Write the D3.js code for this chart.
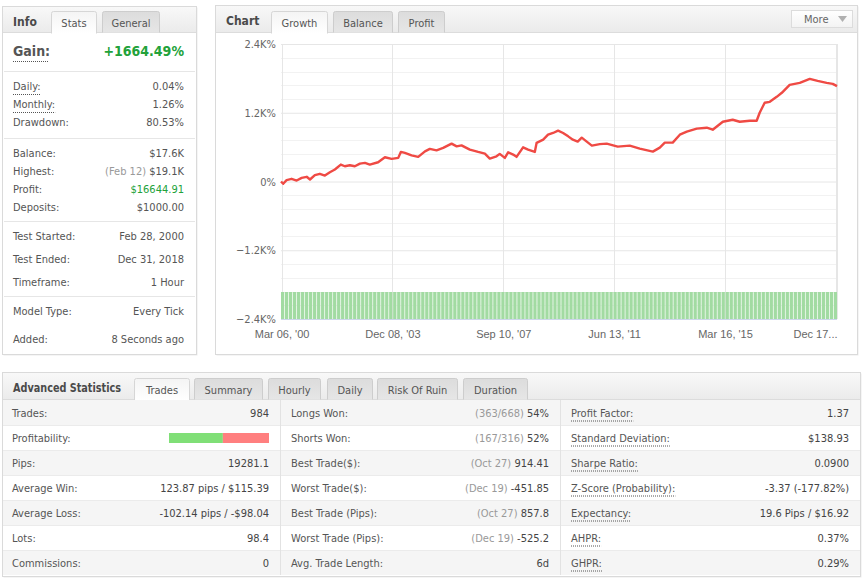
<!DOCTYPE html>
<html><head><meta charset="utf-8">
<script src="https://cdn.jsdelivr.net/npm/d3@7"></script>
<style>
html,body{margin:0;padding:0;background:#fff;}
svg{display:block;}
</style></head><body>
<svg id="c" width="866" height="586"></svg>
<script>
// ---------------- DATA ----------------
const growthDates = ["2000-02-28","2000-03-26","2000-05-07","2000-07-08","2000-09-09","2000-11-10","2001-01-11","2001-02-21","2001-04-22","2001-06-23","2001-08-24","2001-10-25","2001-12-26","2002-03-09","2002-04-28","2002-06-29","2002-08-30","2002-11-01","2003-01-02","2003-03-03","2003-06-14","2003-09-06","2003-11-28","2004-02-18","2004-03-21","2004-05-10","2004-08-01","2004-10-22","2005-01-14","2005-03-15","2005-06-06","2005-08-27","2005-12-09","2006-02-10","2006-04-11","2006-07-23","2006-11-03","2007-01-25","2007-03-27","2007-06-18","2007-07-28","2007-09-29","2007-11-09","2008-01-10","2008-02-21","2008-05-12","2008-07-13","2008-10-04","2008-10-26","2009-01-16","2009-03-17","2009-05-18","2009-07-19","2009-09-19","2009-11-21","2010-01-18","2010-03-19","2010-05-08","2010-07-09","2010-09-10","2010-12-17","2011-03-13","2011-07-27","2011-12-23","2012-04-25","2012-10-04","2012-12-29","2013-03-01","2013-06-07","2013-09-03","2013-11-28","2014-03-31","2014-08-02","2014-10-15","2015-02-17","2015-06-19","2015-09-14","2016-01-16","2016-04-11","2016-05-18","2016-07-19","2016-09-20","2016-12-15","2017-02-16","2017-05-24","2017-09-26","2018-01-28","2018-05-05","2018-08-25","2018-11-08","2018-12-31"];
const growthValues = [0,-40,23,47,17,64,82,35,110,134,104,162,209,296,266,283,266,313,325,296,336,423,395,412,516,499,457,430,527,569,544,586,661,614,631,556,516,487,400,440,482,412,510,470,430,596,556,516,673,730,817,847,887,847,788,730,696,765,696,626,652,661,609,626,574,522,591,678,678,817,870,922,939,904,1043,1078,1043,1061,1061,1200,1374,1391,1478,1548,1687,1722,1791,1756,1722,1704,1664];

const barValues = [
100,100,100,100,100,100,100,100,100,100,100,100,100,100,100,100,100,100,100,100,
100,100,100,100,100,100,100,100,100,100,100,100,100,100,100,100,100,100,100,100,
100,100,100,100,100,100,100,100,100,100,100,100,100,100,100,100,100,100,100,100,
100,100,100,100,100,100,100,100,100,100,100,100,100,100,100,100,100,100,100,100,
100,100,100,100,100,100,100,100,100,100,100,100,100,100,100,100,100,100,100,100,
100,100,100,100,100,100,100,100,100,100,100,100,100,100,100,100,100,100,100,100,
100,100,100,100,100,100,100,100,100,100,100,100,100,100,100,100,100,100,100];

const yTickValues = [-2400,-1200,0,1200,2400];
const yTickLabels = ["\u22122.4K%","\u22121.2K%","0%","1.2K%","2.4K%"];
const xDomain = ["2000-02-28","2018-12-31"];
const xTickDates = ["2000-03-06","2003-12-08","2007-09-10","2011-06-13","2015-03-16","2018-12-17"];
const xTickLabels = ["Mar 06, '00","Dec 08, '03","Sep 10, '07","Jun 13, '11","Mar 16, '15","Dec 17..."];

const chartTabs = ["Growth","Balance","Profit"];
const infoTabs = ["Stats","General"];
const statTabs = ["Trades","Summary","Hourly","Daily","Risk Of Ruin","Duration"];

const gainLabel = "Gain:";
const gainValue = "+1664.49%";
const infoLabels = ["Daily:","Monthly:","Drawdown:","Balance:","Highest:","Profit:","Deposits:","Test Started:","Test Ended:","Timeframe:","Model Type:","Added:"];
const infoNotes  = ["","","","","(Feb 12) ","","","","","","",""];
const infoValues = ["0.04%","1.26%","80.53%","$17.6K","$19.1K","$16644.91","$1000.00","Feb 28, 2000","Dec 31, 2018","1 Hour","Every Tick","8 Seconds ago"];

const col1Labels = ["Trades:","Profitability:","Pips:","Average Win:","Average Loss:","Lots:","Commissions:"];
const col1Values = ["984","","19281.1","123.87 pips / $115.39","-102.14 pips / -$98.04","98.4","0"];
const col2Labels = ["Longs Won:","Shorts Won:","Best Trade($):","Worst Trade($):","Best Trade (Pips):","Worst Trade (Pips):","Avg. Trade Length:"];
const col2Notes  = ["(363/668) ","(167/316) ","(Oct 27) ","(Dec 19) ","(Oct 27) ","(Dec 19) ",""];
const col2Values = ["54%","52%","914.41","-451.85","857.8","-525.2","6d"];
const col3Labels = ["Profit Factor:","Standard Deviation:","Sharpe Ratio:","Z-Score (Probability):","Expectancy:","AHPR:","GHPR:"];
const col3Values = ["1.37","$138.93","0.0900","-3.37 (-177.82%)","19.6 Pips / $16.92","0.37%","0.29%"];
const profitabilityParts = [530, 454]; // won, lost

// ---------------- DRAW ----------------
const UI = '"DejaVu Sans Condensed","DejaVu Sans",Verdana,sans-serif';
const AR = '"Liberation Sans",Arial,sans-serif';
const svg = d3.select("#c");
svg.append("rect").attr("width",866).attr("height",586).attr("fill","#fff");

const defs = svg.append("defs");
function grad(id, c1, c2){
  const g = defs.append("linearGradient").attr("id",id).attr("x1",0).attr("y1",0).attr("x2",0).attr("y2",1);
  g.append("stop").attr("offset","0%").attr("stop-color",c1);
  g.append("stop").attr("offset","100%").attr("stop-color",c2);
}
grad("hdr","#f8f8f8","#ebebeb");
grad("tabI","#dcdcdc","#e6e6e6");
grad("tabA","#f4f4f4","#ffffff");
grad("btn","#ffffff","#f3f3f3");

function panel(x,y,w,h,hh,title,titleW){
  svg.append("rect").attr("x",x+1.5).attr("y",y+1.5).attr("width",w).attr("height",h).attr("fill","#ececec");
  svg.append("rect").attr("x",x+0.5).attr("y",y+0.5).attr("width",w).attr("height",h).attr("fill","#fff").attr("stroke","#dadada");
  svg.append("rect").attr("x",x+1).attr("y",y+1).attr("width",w-1).attr("height",hh-1).attr("fill","url(#hdr)");
  svg.append("line").attr("x1",x+1).attr("x2",x+w).attr("y1",y+hh+0.5).attr("y2",y+hh+0.5).attr("stroke","#dcdcdc");
  const t = svg.append("text").attr("x",x+11).attr("y",y+19.5).text(title)
    .attr("font-family",UI).attr("font-size",12).attr("font-weight","bold").attr("fill","#4a4a4a");
  if(titleW) t.attr("textLength",titleW).attr("lengthAdjust","spacingAndGlyphs");
}
function tabs(labels, xs, ws, y, bottom, activeIdx){
  labels.forEach((lab,i)=>{
    const x0 = xs[i]+0.5, x1 = xs[i]+ws[i]+0.5, y0 = y+0.5, r = 2;
    const act = i===activeIdx;
    const yb = act ? bottom+1.5 : bottom+0.5;
    svg.append("path")
      .attr("d",`M${x0},${yb} L${x0},${y0+r} Q${x0},${y0} ${x0+r},${y0} L${x1-r},${y0} Q${x1},${y0} ${x1},${y0+r} L${x1},${yb}`)
      .attr("fill", act ? "url(#tabA)" : "url(#tabI)").attr("stroke", act ? "#d6d6d6" : "#cdcdcd");
    svg.append("text").attr("x",xs[i]+ws[i]/2+0.5).attr("y",y+15.5).attr("text-anchor","middle").text(lab)
      .attr("font-family",UI).attr("font-size",11).attr("fill","#555");
  });
}

// ---- Info panel ----
panel(2,6,194,348,26,"Info");
tabs(infoTabs,[51,102],[45,57],11,32,0);
svg.append("text").attr("x",13).attr("y",56).text(gainLabel)
  .attr("font-family",UI).attr("font-size",14).attr("font-weight","bold").attr("fill","#555");
svg.append("line").attr("x1",13).attr("x2",49).attr("y1",61.5).attr("y2",61.5).attr("stroke","#555").attr("stroke-dasharray","1,1");
svg.append("text").attr("x",184).attr("y",56).attr("text-anchor","end").text(gainValue)
  .attr("font-family",UI).attr("font-size",14).attr("font-weight","bold").attr("fill","#22a23a");
[71,138,221.5,296.5].forEach(y=>{
  svg.append("line").attr("x1",4).attr("x2",195).attr("y1",Math.floor(y)+0.5).attr("y2",Math.floor(y)+0.5).attr("stroke","#e6e6e6");
});
const infoY = [90,108,126,157,175,193,211,240,263,286,315,343];
infoLabels.forEach((lab,i)=>{
  const t = svg.append("text").attr("x",13).attr("y",infoY[i]).text(lab)
    .attr("font-family",UI).attr("font-size",11).attr("fill","#555");
  if(i<2){
    const w = t.node().getComputedTextLength();
    svg.append("line").attr("x1",13).attr("x2",13+w).attr("y1",infoY[i]+4.5).attr("y2",infoY[i]+4.5)
      .attr("stroke","#555").attr("stroke-dasharray","1,1");
  }
  const v = svg.append("text").attr("x",184).attr("y",infoY[i]).attr("text-anchor","end")
    .attr("font-family",UI).attr("font-size",11);
  if(infoNotes[i]) v.append("tspan").attr("fill","#999").text(infoNotes[i]);
  v.append("tspan").attr("fill", lab==="Profit:" ? "#22a23a" : "#555").text(infoValues[i]);
});

// ---- Chart panel ----
panel(215,5,642,349,27,"Chart");
tabs(chartTabs,[271,333,398],[56,59,46],11,32,0);
svg.append("rect").attr("x",791.5).attr("y",10.5).attr("width",61).attr("height",17).attr("fill","url(#btn)").attr("stroke","#dcdcdc");
svg.append("text").attr("x",804).attr("y",23).text("More").attr("font-family",UI).attr("font-size",11).attr("fill","#666");
svg.append("path").attr("d","M838,16 L847,16 L842.5,22 Z").attr("fill","#b0b0b0");

const plotL = 281, plotR = 837, plotT = 44, plotB = 319;
const parse = d3.timeParse("%Y-%m-%d");
const x = d3.scaleTime().domain(xDomain.map(parse)).range([plotL, plotR]);
const y = d3.scaleLinear().domain([-2400,2400]).range([plotB, plotT]);

const g = svg.append("g");
// minor grid
const minor = d3.range(-2400, 2401, 240).filter(v=>yTickValues.indexOf(v)<0);
g.selectAll(".mn").data(minor).join("line")
  .attr("x1",plotL).attr("x2",plotR).attr("y1",d=>Math.round(y(d))+0.5).attr("y2",d=>Math.round(y(d))+0.5)
  .attr("stroke","#f2f2f2");
// vertical grid
const xt = xTickDates.map(parse);
g.selectAll(".vg").data(xt).join("line")
  .attr("x1",d=>Math.round(x(d))+0.5).attr("x2",d=>Math.round(x(d))+0.5).attr("y1",plotT).attr("y2",plotB)
  .attr("stroke","#e6e6e6");
g.append("line").attr("x1",plotR+0.5).attr("x2",plotR+0.5).attr("y1",plotT).attr("y2",plotB).attr("stroke","#e6e6e6");
// y axis with major grid
const yAxis = d3.axisLeft(y).tickValues(yTickValues).tickSize(-(plotR-plotL)).tickPadding(5)
  .tickFormat((d,i)=>yTickLabels[i]);
const ya = g.append("g").attr("transform",`translate(${plotL},0)`).call(yAxis);
ya.select(".domain").remove();
ya.selectAll(".tick line").attr("stroke","#e6e6e6");
ya.selectAll(".tick text").attr("font-family",UI).attr("font-size",11).attr("fill","#666").attr("x",-5);

// volume bars
const bx = d3.scaleBand().domain(barValues.map((d,i)=>i)).range([plotL, plotR]).paddingInner(0.18);
const by = d3.scaleLinear().domain([0,100]).range([plotB, 292]);
g.selectAll(".bar").data(barValues).join("rect")
  .attr("x",(d,i)=>bx(i)).attr("width",bx.bandwidth())
  .attr("y",d=>by(d)).attr("height",d=>plotB-by(d)).attr("fill","#a2dba2");

// x axis
const xAxis = d3.axisBottom(x).tickValues(xt).tickSize(0).tickPadding(11)
  .tickFormat((d,i)=>xTickLabels[i]);
const xa = g.append("g").attr("transform",`translate(0,${plotB})`).call(xAxis);
xa.select(".domain").attr("stroke","#ccd6eb").attr("d",`M${plotL},0.5H${plotR}`);
xa.selectAll(".tick text").attr("font-family",AR).attr("font-size",11).attr("fill","#666");
xa.selectAll(".tick").filter((d,i)=>i===xt.length-1).select("text")
  .attr("text-anchor","end").attr("x", plotR - x(xt[xt.length-1]));

// growth line
const line = d3.line().x((d,i)=>x(parse(growthDates[i]))).y(d=>y(d));
g.append("path").datum(growthValues).attr("d",line).attr("fill","none")
  .attr("stroke","#ef4a44").attr("stroke-width",2.4).attr("stroke-linejoin","round");

// ---- Advanced statistics panel ----
panel(2,372,858,204,27,"Advanced Statistics",108);
tabs(statTabs,[134,194,268,327,377,463],[55,68,52,45,80,64],378,399,0);
const rowTop = 400, rowH = 25;
col1Labels.forEach((d,i)=>{
  svg.append("rect").attr("x",3).attr("y",rowTop+i*rowH).attr("width",857).attr("height",rowH)
    .attr("fill", i%2===0 ? "#f5f5f5" : "#ffffff");
  if(i>0) svg.append("line").attr("x1",3).attr("x2",860).attr("y1",rowTop+i*rowH+0.5).attr("y2",rowTop+i*rowH+0.5).attr("stroke","#ebebeb");
});
[280,560].forEach(cx=>{
  svg.append("line").attr("x1",cx+0.5).attr("x2",cx+0.5).attr("y1",rowTop).attr("y2",rowTop+7*rowH).attr("stroke","#e2e2e2");
});
function col(labels, notes, values, lx, vx, underline){
  labels.forEach((lab,i)=>{
    const by0 = rowTop + i*rowH + 16.5;
    const t = svg.append("text").attr("x",lx).attr("y",by0).text(lab)
      .attr("font-family",UI).attr("font-size",11).attr("fill","#555");
    if(underline){
      const w = t.node().getComputedTextLength();
      svg.append("line").attr("x1",lx).attr("x2",lx+w).attr("y1",by0+4.5).attr("y2",by0+4.5)
        .attr("stroke","#555").attr("stroke-dasharray","1,1");
    }
    if(values[i]!==""){
      const v = svg.append("text").attr("x",vx).attr("y",by0).attr("text-anchor","end")
        .attr("font-family",UI).attr("font-size",11);
      if(notes && notes[i]) v.append("tspan").attr("fill","#999").text(notes[i]);
      v.append("tspan").attr("fill","#444").text(values[i]);
    }
  });
}
col(col1Labels, null, col1Values, 12, 269, false);
col(col2Labels, col2Notes, col2Values, 291, 549, false);
col(col3Labels, null, col3Values, 571, 849, true);

// profitability bar
const px = d3.scaleLinear().domain([0, d3.sum(profitabilityParts)]).range([169, 269]);
const stacked = [0, profitabilityParts[0]];
svg.selectAll(".pb").data(profitabilityParts).join("rect")
  .attr("x",(d,i)=>px(stacked[i])).attr("width",d=>px(d)-px(0))
  .attr("y",rowTop+rowH+8).attr("height",10)
  .attr("fill",(d,i)=>i===0?"#80df77":"#ff7f7f");
</script>
</body></html>
